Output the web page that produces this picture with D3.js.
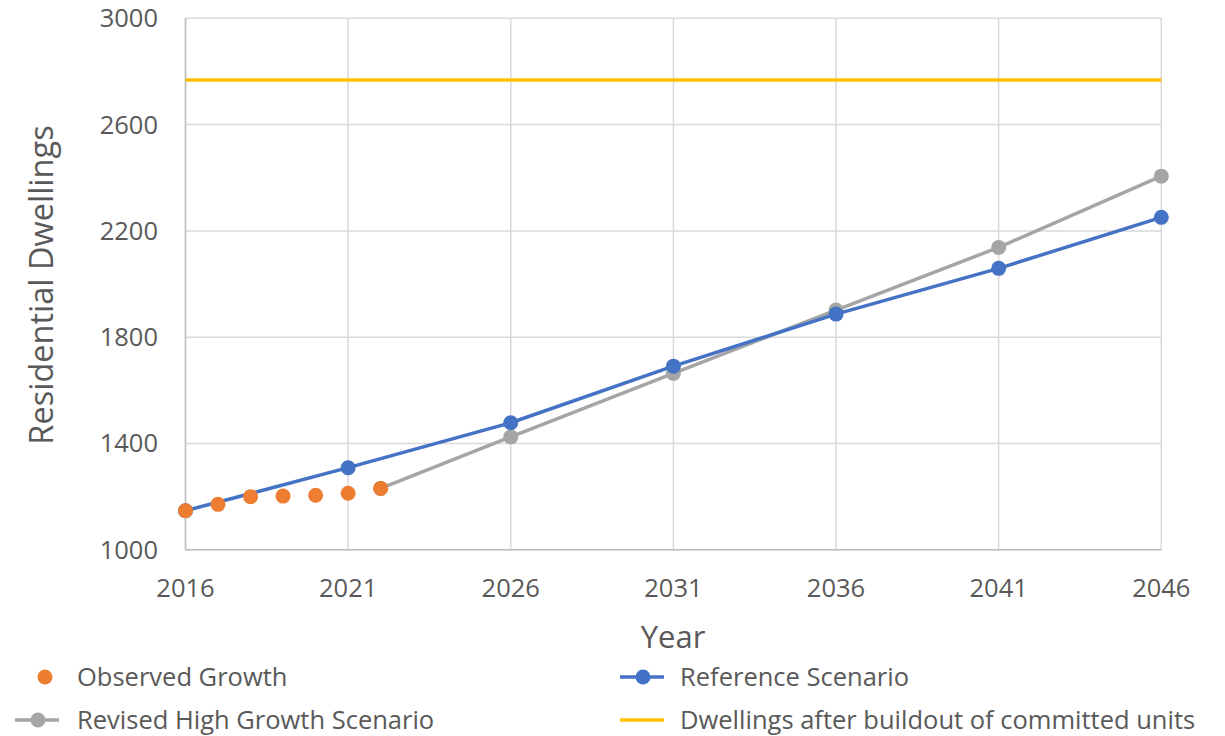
<!DOCTYPE html>
<html><head><meta charset="utf-8">
<script src="https://cdn.jsdelivr.net/npm/d3@7"></script>
<style>body{margin:0;background:#fff}svg{display:block;font-family:"Open Sans",sans-serif}</style>
</head><body><svg id="c" width="1225" height="736"></svg>
<script>
const observedYears = [2016,2017,2018,2019,2020,2021,2022];
const observedValues = [1147,1171,1200,1202,1205,1213,1231];
const referenceYears = [2016,2021,2026,2031,2036,2041,2046];
const referenceValues = [1147,1309,1478,1691,1887,2059,2251];
const highYears = [2022,2026,2031,2036,2041,2046];
const highValues = [1231,1425,1664,1902,2138,2406];
const buildoutValue = 2768;
const xTicks = [2016,2021,2026,2031,2036,2041,2046];
const yTicks = [1000,1400,1800,2200,2600,3000];

const svg = d3.select("#c");
const x = d3.scaleLinear().domain([2016,2046]).range([185.5,1161.3]);
const y = d3.scaleLinear().domain([1000,3000]).range([549.8,18.3]);
const grid = "#D9D9D9", textCol = "#595959";

svg.append("g").selectAll("line").data(yTicks).join("line")
  .attr("x1",x(2016)).attr("x2",x(2046)).attr("y1",d=>y(d)).attr("y2",d=>y(d))
  .attr("stroke",grid).attr("stroke-width",1.5);
svg.append("g").selectAll("line").data(xTicks).join("line")
  .attr("x1",d=>x(d)).attr("x2",d=>x(d)).attr("y1",y(1000)).attr("y2",y(3000))
  .attr("stroke",grid).attr("stroke-width",1.5);
svg.append("line").attr("x1",x(2016)).attr("x2",x(2016)).attr("y1",y(1000)).attr("y2",y(3000)).attr("stroke","#BFBFBF").attr("stroke-width",1.5);
svg.append("line").attr("x1",x(2016)).attr("x2",x(2046)).attr("y1",y(1000)).attr("y2",y(1000)).attr("stroke","#BFBFBF").attr("stroke-width",1.5);

svg.append("g").selectAll("text").data(yTicks).join("text")
  .attr("x",158).attr("y",d=>y(d)).attr("dy","0.35em").attr("text-anchor","end")
  .attr("font-size",25.5).attr("fill",textCol).text(d=>d);
svg.append("g").selectAll("text").data(xTicks).join("text")
  .attr("x",d=>x(d)).attr("y",597).attr("text-anchor","middle")
  .attr("font-size",25.5).attr("fill",textCol).text(d=>d);

svg.append("text").attr("x",673).attr("y",648).attr("text-anchor","middle").attr("font-size",31).attr("fill",textCol).text("Year");
svg.append("text").attr("transform","translate(53,285) rotate(-90)").attr("text-anchor","middle").attr("font-size",32.5).attr("fill",textCol).text("Residential Dwellings");

const line = d3.line().x(d=>x(d[0])).y(d=>y(d[1]));
svg.append("line").attr("x1",x(2016)).attr("x2",x(2046)).attr("y1",y(buildoutValue)).attr("y2",y(buildoutValue)).attr("stroke","#FFC000").attr("stroke-width",3.5);

const ref = d3.zip(referenceYears, referenceValues);
const high = d3.zip(highYears, highValues);
const obs = d3.zip(observedYears, observedValues);

svg.append("path").datum(high).attr("d",line).attr("fill","none").attr("stroke","#A5A5A5").attr("stroke-width",3.5);
svg.append("g").selectAll("circle").data(high).join("circle").attr("cx",d=>x(d[0])).attr("cy",d=>y(d[1])).attr("r",7.5).attr("fill","#A5A5A5");
svg.append("path").datum(ref).attr("d",line).attr("fill","none").attr("stroke","#4472C4").attr("stroke-width",3.5);
svg.append("g").selectAll("circle").data(ref).join("circle").attr("cx",d=>x(d[0])).attr("cy",d=>y(d[1])).attr("r",7.5).attr("fill","#4472C4");
svg.append("g").selectAll("circle").data(obs).join("circle").attr("cx",d=>x(d[0])).attr("cy",d=>y(d[1])).attr("r",7.5).attr("fill","#ED7D31");

const leg = [
  {name:"Observed Growth", color:"#ED7D31", line:false, marker:true, lx:15, tx:77, y:677},
  {name:"Reference Scenario", color:"#4472C4", line:true, marker:true, lx:620, tx:680, y:677},
  {name:"Revised High Growth Scenario", color:"#A5A5A5", line:true, marker:true, lx:15, tx:77, y:720},
  {name:"Dwellings after buildout of committed units", color:"#FFC000", line:true, marker:false, lx:620, tx:680, y:720}
];
const lg = svg.append("g");
leg.forEach(l=>{
  if(l.line) lg.append("line").attr("x1",l.lx).attr("x2",l.lx+44).attr("y1",l.y).attr("y2",l.y).attr("stroke",l.color).attr("stroke-width",3.5);
  if(l.marker) lg.append("circle").attr("cx",l.lx+(l.line?23:30)).attr("cy",l.y).attr("r",7.5).attr("fill",l.color);
  lg.append("text").attr("x",l.tx).attr("y",l.y).attr("dy","0.35em").attr("font-size",25.5).attr("fill",textCol).text(l.name);
});
</script></body></html>
